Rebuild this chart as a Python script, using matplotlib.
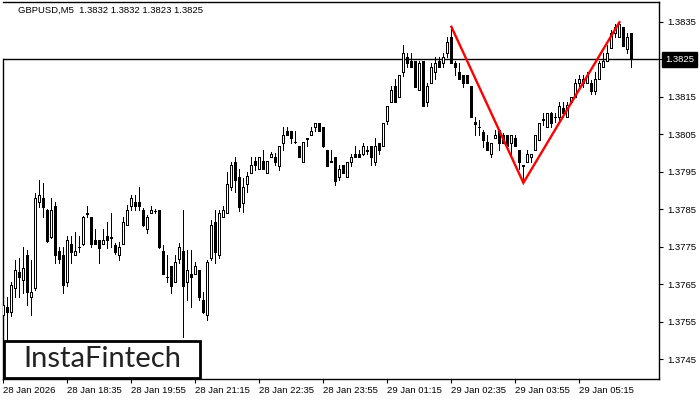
import matplotlib
matplotlib.use("Agg")
import matplotlib.pyplot as plt
from matplotlib.patches import Rectangle

title_text = "GBPUSD,M5  1.3832 1.3832 1.3823 1.3825"

opens = [1.37569, 1.37590, 1.37577, 1.37641, 1.37683, 1.37662, 1.37729, 1.37617, 1.37641, 1.37870,
         1.37881, 1.37849, 1.37777, 1.37859, 1.37739, 1.37729, 1.37657, 1.37758, 1.37729, 1.37750,
         1.37758, 1.37841, 1.37830, 1.37769, 1.37769, 1.37758, 1.37779, 1.37777, 1.37755, 1.37729,
         1.37758, 1.37809, 1.37859, 1.37870, 1.37870, 1.37849, 1.37798, 1.37841, 1.37846, 1.37849,
         1.37739, 1.37670, 1.37699, 1.37657, 1.37718, 1.37739, 1.37657, 1.37678, 1.37678, 1.37689,
         1.37609, 1.37569, 1.37721, 1.37817, 1.37729, 1.37830, 1.37841, 1.37910, 1.37977, 1.37937,
         1.37867, 1.37918, 1.37947, 1.37979, 1.37958, 1.37979, 1.37947, 1.37990, 1.37990, 1.37966,
         1.38027, 1.38059, 1.38059, 1.38030, 1.38019, 1.37977, 1.38041, 1.38049, 1.38070, 1.38081,
         1.38070, 1.38009, 1.37977, 1.37990, 1.37937, 1.37969, 1.37937, 1.37977, 1.37998, 1.37998,
         1.37998, 1.38009, 1.38019, 1.37977, 1.38027, 1.38019, 1.38086, 1.38137, 1.38179, 1.38150,
         1.38217, 1.38257, 1.38246, 1.38246, 1.38169, 1.38246, 1.38137, 1.38187, 1.38217, 1.38246,
         1.38241, 1.38267, 1.38310, 1.38241, 1.38217, 1.38209, 1.38209, 1.38179, 1.38083, 1.38070,
         1.38057, 1.38030, 1.37998, 1.38041, 1.38062, 1.38049, 1.38049, 1.38027, 1.38041, 1.38009,
         1.37969, 1.37977, 1.37990, 1.38009, 1.38035, 1.38089, 1.38070, 1.38107, 1.38097, 1.38097,
         1.38121, 1.38097, 1.38137, 1.38150, 1.38187, 1.38187, 1.38187, 1.38187, 1.38166, 1.38198,
         1.38230, 1.38246, 1.38281, 1.38321, 1.38310, 1.38337, 1.38278, 1.38320]

highs = [1.37630, 1.37617, 1.37657, 1.37715, 1.37721, 1.37750, 1.37742, 1.37715, 1.37894, 1.37929,
         1.37921, 1.37851, 1.37881, 1.37870, 1.37750, 1.37750, 1.37779, 1.37779, 1.37790, 1.37779,
         1.37833, 1.37859, 1.37830, 1.37798, 1.37769, 1.37798, 1.37817, 1.37841, 1.37761, 1.37763,
         1.37830, 1.37862, 1.37889, 1.37889, 1.37910, 1.37854, 1.37835, 1.37859, 1.37851, 1.37849,
         1.37755, 1.37729, 1.37699, 1.37729, 1.37761, 1.37849, 1.37742, 1.37742, 1.37710, 1.37689,
         1.37630, 1.37715, 1.37822, 1.37849, 1.37849, 1.37859, 1.37950, 1.37977, 1.37990, 1.37958,
         1.37934, 1.37950, 1.37990, 1.37990, 1.37990, 1.38009, 1.37979, 1.38003, 1.38001, 1.38019,
         1.38070, 1.38070, 1.38059, 1.38059, 1.38019, 1.38030, 1.38041, 1.38070, 1.38081, 1.38081,
         1.38070, 1.38009, 1.38009, 1.37990, 1.37969, 1.37969, 1.37977, 1.37998, 1.38019, 1.38009,
         1.38027, 1.38019, 1.38019, 1.38041, 1.38027, 1.38081, 1.38126, 1.38179, 1.38198, 1.38209,
         1.38289, 1.38267, 1.38267, 1.38246, 1.38246, 1.38246, 1.38187, 1.38241, 1.38257, 1.38257,
         1.38267, 1.38310, 1.38337, 1.38246, 1.38241, 1.38209, 1.38209, 1.38179, 1.38097, 1.38089,
         1.38062, 1.38049, 1.38027, 1.38062, 1.38062, 1.38054, 1.38049, 1.38049, 1.38049, 1.38009,
         1.37969, 1.38009, 1.37998, 1.38049, 1.38081, 1.38107, 1.38107, 1.38110, 1.38107, 1.38137,
         1.38137, 1.38137, 1.38150, 1.38198, 1.38209, 1.38209, 1.38217, 1.38195, 1.38217, 1.38246,
         1.38267, 1.38289, 1.38329, 1.38345, 1.38350, 1.38337, 1.38321, 1.38320]

lows = [1.37561, 1.37502, 1.37566, 1.37617, 1.37617, 1.37627, 1.37595, 1.37569, 1.37635, 1.37857,
        1.37830, 1.37763, 1.37774, 1.37707, 1.37707, 1.37627, 1.37646, 1.37707, 1.37729, 1.37737,
        1.37755, 1.37830, 1.37750, 1.37758, 1.37707, 1.37758, 1.37747, 1.37750, 1.37731, 1.37715,
        1.37758, 1.37809, 1.37849, 1.37849, 1.37849, 1.37806, 1.37787, 1.37841, 1.37841, 1.37747,
        1.37678, 1.37657, 1.37627, 1.37657, 1.37707, 1.37510, 1.37609, 1.37590, 1.37678, 1.37609,
        1.37574, 1.37555, 1.37715, 1.37707, 1.37721, 1.37830, 1.37841, 1.37902, 1.37897, 1.37846,
        1.37843, 1.37897, 1.37947, 1.37955, 1.37958, 1.37958, 1.37947, 1.37990, 1.37969, 1.37955,
        1.38009, 1.38049, 1.38027, 1.38027, 1.37990, 1.37977, 1.38019, 1.38049, 1.38059, 1.38059,
        1.38017, 1.37966, 1.37977, 1.37915, 1.37929, 1.37947, 1.37937, 1.37966, 1.37990, 1.37990,
        1.37995, 1.37998, 1.37969, 1.37969, 1.37998, 1.38019, 1.38078, 1.38137, 1.38137, 1.38150,
        1.38206, 1.38230, 1.38230, 1.38177, 1.38169, 1.38126, 1.38126, 1.38187, 1.38198, 1.38230,
        1.38230, 1.38257, 1.38241, 1.38209, 1.38198, 1.38177, 1.38187, 1.38097, 1.38049, 1.38049,
        1.38017, 1.38009, 1.37990, 1.38041, 1.38009, 1.38027, 1.38019, 1.37998, 1.38019, 1.37958,
        1.37921, 1.37977, 1.37977, 1.38009, 1.38035, 1.38075, 1.38070, 1.38070, 1.38083, 1.38089,
        1.38097, 1.38097, 1.38137, 1.38150, 1.38177, 1.38177, 1.38187, 1.38158, 1.38158, 1.38198,
        1.38230, 1.38246, 1.38281, 1.38310, 1.38310, 1.38286, 1.38267, 1.38230]

closes = [1.37595, 1.37577, 1.37649, 1.37689, 1.37670, 1.37694, 1.37630, 1.37630, 1.37881, 1.37889,
          1.37857, 1.37766, 1.37849, 1.37729, 1.37718, 1.37649, 1.37769, 1.37737, 1.37739, 1.37749,
          1.37830, 1.37839, 1.37758, 1.37758, 1.37747, 1.37769, 1.37769, 1.37775, 1.37737, 1.37750,
          1.37817, 1.37849, 1.37881, 1.37859, 1.37859, 1.37809, 1.37830, 1.37849, 1.37845, 1.37750,
          1.37678, 1.37669, 1.37646, 1.37710, 1.37750, 1.37646, 1.37689, 1.37670, 1.37699, 1.37617,
          1.37577, 1.37710, 1.37809, 1.37737, 1.37841, 1.37849, 1.37918, 1.37969, 1.37929, 1.37857,
          1.37910, 1.37939, 1.37969, 1.37969, 1.37990, 1.37958, 1.37979, 1.37998, 1.37977, 1.38019,
          1.38049, 1.38049, 1.38041, 1.38029, 1.37990, 1.38030, 1.38039, 1.38059, 1.38081, 1.38059,
          1.38019, 1.37966, 1.37978, 1.37926, 1.37958, 1.37947, 1.37977, 1.37990, 1.37990, 1.37990,
          1.38019, 1.38007, 1.37990, 1.38019, 1.38009, 1.38081, 1.38126, 1.38169, 1.38137, 1.38209,
          1.38267, 1.38241, 1.38230, 1.38177, 1.38241, 1.38126, 1.38179, 1.38230, 1.38241, 1.38230,
          1.38257, 1.38297, 1.38241, 1.38230, 1.38198, 1.38187, 1.38187, 1.38097, 1.38078, 1.38069,
          1.38035, 1.38009, 1.38027, 1.38049, 1.38027, 1.38027, 1.38019, 1.38049, 1.38019, 1.37977,
          1.37967, 1.37998, 1.37998, 1.38049, 1.38081, 1.38090, 1.38107, 1.38081, 1.38096, 1.38126,
          1.38107, 1.38129, 1.38150, 1.38187, 1.38198, 1.38198, 1.38209, 1.38166, 1.38198, 1.38241,
          1.38246, 1.38267, 1.38321, 1.38337, 1.38345, 1.38286, 1.38310, 1.38250]

x_tick_bars = [0, 16, 32, 48, 64, 80, 96, 112, 128, 144]
x_tick_labels = ["28 Jan 2026", "28 Jan 18:35", "28 Jan 19:55", "28 Jan 21:15", "28 Jan 22:35",
                 "28 Jan 23:55", "29 Jan 01:15", "29 Jan 02:35", "29 Jan 03:55", "29 Jan 05:15"]
y_ticks = [1.3745, 1.3755, 1.3765, 1.3775, 1.3785, 1.3795, 1.3805, 1.3815, 1.3825, 1.3835]
y_tick_labels = ["1.3745", "1.3755", "1.3765", "1.3775", "1.3785", "1.3795", "1.3805", "1.3815", "1.3825", "1.3835"]

pattern_bars = [112, 130, 154]
pattern_prices = [1.38337, 1.37921, 1.38349]
current_price = 1.3825
current_label = "1.3825"
logo_text = "InstaFintech"

W, H = 700, 400
small_font = "Liberation Sans"
fig = plt.figure(figsize=(7, 4), dpi=100)
fig.patch.set_facecolor("white")
ax = fig.add_axes([3 / W, 21 / H, 656 / W, 377 / H])

y_lo, y_hi = 1.37398, 1.38403
ax.set_ylim(y_lo, y_hi)
ax.set_xlim(-0.08, 163.9)

n = len(opens)
idx = list(range(n))
ax.vlines(idx, lows, highs, color="black", linewidth=0.72, antialiased=False, zorder=2)
bottoms = [min(o, c) for o, c in zip(opens, closes)]
heights = [abs(c - o) for o, c in zip(opens, closes)]
faces = ["white" if c >= o else "black" for o, c in zip(opens, closes)]
ax.bar(idx, heights, bottom=bottoms, width=0.5, color=faces, edgecolor="black",
       linewidth=0.72, antialiased=False, zorder=3)

ax.axhline(current_price, color="black", linewidth=1.0, zorder=1)
ax.plot(pattern_bars, pattern_prices, color="#ff0000", linewidth=1.7, zorder=4,
        solid_joinstyle="miter")

# axes styling; the tick at the current price is labelled by the black marker instead
ax.yaxis.tick_right()
ax.set_yticks(y_ticks)
ax.set_yticklabels(["" if lab == current_label else lab for lab in y_tick_labels])
ax.set_xticks(x_tick_bars)
ax.set_xticklabels(x_tick_labels, ha="left")
ax.tick_params(axis="both", direction="out", length=3, width=0.8, color="black",
               labelsize=6.8, labelcolor="black")
ax.tick_params(axis="y", pad=3)
ax.tick_params(axis="x", pad=2)
for lab in ax.get_xticklabels() + ax.get_yticklabels():
    lab.set_fontfamily(small_font)
for s in ax.spines.values():
    s.set_color("black")
    s.set_linewidth(1.0)
ax.spines["left"].set_bounds(y_lo, current_price)

# current price marker on the price scale
ax.annotate(current_label, xy=(1.0, current_price), xycoords=("axes fraction", "data"),
            xytext=(4.5, 0), textcoords="offset points", ha="left", va="center",
            fontsize=6.8, color="white", fontfamily=small_font, annotation_clip=False,
            bbox=dict(boxstyle="square,pad=0.3", fc="black", ec="black"), zorder=10)

# title
ax.text(15 / 656, 1 - 8 / 377, title_text, transform=ax.transAxes, ha="left", va="center",
        fontsize=6.8, color="black", fontfamily=small_font)

# logo box
fig.patches.append(Rectangle((4 / W, 22 / H), 196 / W, 37 / H, transform=fig.transFigure,
                             facecolor="white", edgecolor="black", linewidth=2.0, zorder=20))
fig.text(102 / W, 41 / H, logo_text, ha="center", va="center", fontsize=21,
         fontfamily="Lato", color="#222222", zorder=21)

fig.savefig("out.png", dpi=100, facecolor="white")
